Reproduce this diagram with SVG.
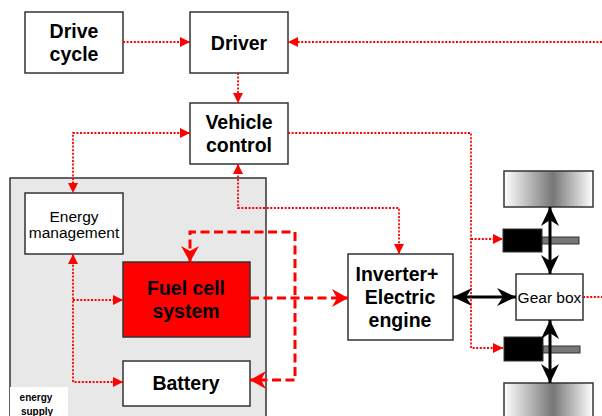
<svg xmlns="http://www.w3.org/2000/svg" width="602" height="416" viewBox="0 0 602 416">
<style>
.box{fill:#fff;stroke:#333;stroke-width:1.5}
.b{font-family:"Liberation Sans",Arial,sans-serif;font-weight:bold;font-size:19.5px;text-anchor:middle;fill:#000}
.r{font-family:"Liberation Sans",Arial,sans-serif;font-size:15.5px;text-anchor:middle;fill:#000}
.dot{fill:none;stroke:#f00;stroke-width:1.8;stroke-dasharray:2 1.6}
.dash{fill:none;stroke:#f00;stroke-width:3;stroke-dasharray:9 4.5}
.blk{fill:none;stroke:#000;stroke-width:3}
</style>
<defs>
<marker id="ar" markerUnits="userSpaceOnUse" markerWidth="11" markerHeight="11" refX="10" refY="5" orient="auto-start-reverse" viewBox="0 0 11 11">
<path d="M0,0 L10,5 L0,10 z" fill="#f00"/>
</marker>
<marker id="ad" markerUnits="userSpaceOnUse" markerWidth="17" markerHeight="19" refX="16" refY="9" orient="auto-start-reverse" viewBox="0 0 17 19">
<path d="M0,0 L16,9 L0,18 L5,9 z" fill="#f00"/>
</marker>
<marker id="ab" markerUnits="userSpaceOnUse" markerWidth="20" markerHeight="19" refX="19" refY="9" orient="auto-start-reverse" viewBox="0 0 20 19">
<path d="M0,0 L19,9 L0,18 L6,9 z" fill="#000"/>
</marker>
<linearGradient id="wg" x1="0" y1="0" x2="1" y2="0">
<stop offset="0" stop-color="#fff"/>
<stop offset="0.55" stop-color="#777"/>
<stop offset="1" stop-color="#fff"/>
</linearGradient>
</defs>

<g id="energy-supply">
<rect x="10" y="178" width="256" height="250" fill="#e8e8e8" stroke="#333" stroke-width="1.5"/>
<rect x="10" y="387" width="58" height="35" fill="#fff"/>
<text x="36" y="401" font-family="Liberation Sans, Arial, sans-serif" font-weight="bold" font-size="10" text-anchor="middle">energy</text>
<text x="37" y="415" font-family="Liberation Sans, Arial, sans-serif" font-weight="bold" font-size="10" text-anchor="middle">supply</text>
</g>

<g id="drive-cycle">
<rect class="box" x="25" y="12" width="98" height="61"/>
<text class="b" x="74" y="38">Drive</text>
<text class="b" x="74" y="61">cycle</text>
</g>
<g id="driver">
<rect class="box" x="190" y="12" width="98" height="61"/>
<text class="b" x="239" y="50">Driver</text>
</g>
<g id="vehicle-control">
<rect class="box" x="190" y="103" width="98" height="61"/>
<text class="b" x="239" y="129">Vehicle</text>
<text class="b" x="239" y="152">control</text>
</g>
<g id="energy-management">
<rect class="box" x="25" y="193" width="98" height="61"/>
<text class="r" x="74" y="222">Energy</text>
<text class="r" x="74" y="238">management</text>
</g>
<g id="fuel-cell">
<rect x="123" y="262" width="127" height="75" fill="#f00" stroke="#333" stroke-width="1.5"/>
<text class="b" x="186" y="295">Fuel cell</text>
<text class="b" x="186" y="318">system</text>
</g>
<g id="battery">
<rect class="box" x="123" y="361" width="127" height="45"/>
<text class="b" x="186" y="390">Battery</text>
</g>
<g id="inverter">
<rect class="box" x="348" y="254" width="105" height="86"/>
<text class="b" x="397" y="281">Inverter+</text>
<text class="b" x="400" y="304">Electric</text>
<text class="b" x="400" y="327">engine</text>
</g>
<g id="gear-box">
<rect class="box" x="516" y="274" width="67" height="46"/>
<text class="r" x="549.5" y="303">Gear box</text>
</g>
<g id="wheel-top">
<rect x="504" y="171" width="89" height="36" fill="url(#wg)" stroke="#333" stroke-width="1.5"/>
</g>
<g id="wheel-bottom">
<rect x="504" y="383" width="89" height="40" fill="url(#wg)" stroke="#333" stroke-width="1.5"/>
</g>
<g id="brake-top">
<rect x="542" y="237" width="37" height="7" fill="#777" stroke="#333" stroke-width="1"/>
<rect x="503" y="229" width="39" height="23" fill="#000" stroke="#333" stroke-width="1"/>
</g>
<g id="brake-bottom">
<rect x="543" y="346" width="37" height="7" fill="#777" stroke="#333" stroke-width="1"/>
<rect x="504" y="337" width="39" height="24" fill="#000" stroke="#333" stroke-width="1"/>
</g>

<g id="connectors">
<path class="dot" d="M123,42 L190,42" marker-end="url(#ar)"/>
<path class="dot" d="M602,42 L288,42" marker-end="url(#ar)"/>
<path class="dot" d="M238,73 L238,103" marker-end="url(#ar)"/>
<path class="dot" d="M190,133 L73,133 L73,193" marker-start="url(#ar)" marker-end="url(#ar)"/>
<path class="dot" d="M288,133 L471,133 L471,348 L503,348" marker-end="url(#ar)"/>
<path class="dot" d="M471,239 L503,239" marker-end="url(#ar)"/>
<path class="dot" d="M399,254 L399,208 L238,208 L238,164" marker-start="url(#ar)" marker-end="url(#ar)"/>
<path class="dot" d="M73,254 L73,382 L123,382" marker-start="url(#ar)" marker-end="url(#ar)"/>
<path class="dot" d="M73,300 L123,300" marker-end="url(#ar)"/>
<path class="dot" d="M583,297 L602,297"/>
<path class="dash" d="M250,298 L348,298" marker-end="url(#ad)"/>
<path class="dash" d="M190,262 L190,232 L295,232 L295,380 L250,380" marker-start="url(#ad)" marker-end="url(#ad)"/>
<path class="blk" d="M453,297 L516,297" marker-start="url(#ab)" marker-end="url(#ab)"/>
<path class="blk" d="M550,207 L550,274" marker-start="url(#ab)" marker-end="url(#ab)"/>
<path class="blk" d="M550,320 L550,383" marker-start="url(#ab)" marker-end="url(#ab)"/>
</g>
</svg>
